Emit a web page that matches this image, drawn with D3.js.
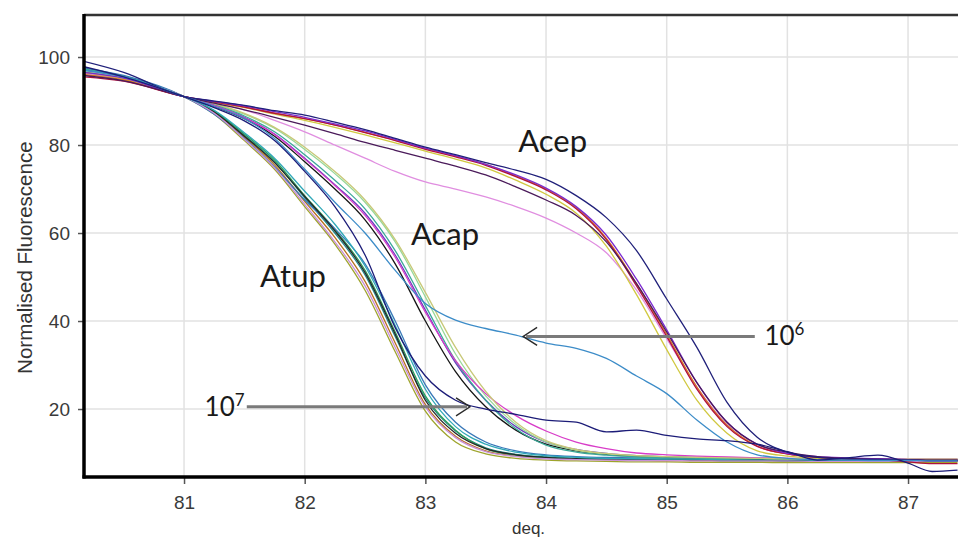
<!DOCTYPE html>
<html>
<head>
<meta charset="utf-8">
<script src="https://cdn.jsdelivr.net/npm/d3@7"></script>
<style>
  body { margin: 0; background: #fff; }
  svg { display: block; font-family: "Liberation Sans", Arial, sans-serif; }
</style>
</head>
<body>
<div class="canvas"></div>
<script>
// temperatures shared by every melt curve
const temps = [80.17, 80.5, 81.0, 81.25, 81.5, 81.75, 82.0, 82.25, 82.5, 82.75, 83.0, 83.25, 83.5, 83.75, 84.0, 84.25, 84.5, 84.75, 85.0, 85.25, 85.5, 85.75, 86.0, 86.25, 86.5, 86.75, 87.0, 87.2, 87.41];

const xTicks = [81, 82, 83, 84, 85, 86, 87];
const yTicks = [20, 40, 60, 80, 100];

// Atup curves
const atup1 = [96.0, 95.0, 91.0, 87.0, 81.0, 74.5, 66.0, 57.5, 47.0, 33.0, 19.5, 12.5, 9.8, 8.8, 8.4, 8.2, 8.1, 8.0, 8.0, 7.9, 7.9, 7.9, 7.8, 7.8, 7.8, 7.8, 7.8, 7.8, 7.8];
const atup2 = [96.8, 95.3, 91.0, 87.4, 81.8, 75.5, 67.2, 59.0, 49.0, 35.0, 21.0, 13.8, 10.5, 9.3, 8.8, 8.6, 8.5, 8.4, 8.3, 8.3, 8.2, 8.2, 8.2, 8.1, 8.1, 8.1, 8.1, 8.1, 8.1];
const atup3 = [97.2, 95.6, 91.0, 87.6, 82.2, 76.2, 68.0, 60.0, 50.5, 36.5, 22.5, 15.0, 11.2, 9.7, 9.1, 8.8, 8.6, 8.5, 8.4, 8.4, 8.3, 8.3, 8.3, 8.2, 8.2, 8.2, 8.2, 8.2, 8.2];
const atup4 = [96.5, 95.2, 91.0, 87.8, 82.5, 76.6, 68.5, 60.8, 51.5, 37.5, 23.0, 15.2, 11.0, 9.5, 8.9, 8.7, 8.6, 8.5, 8.5, 8.4, 8.4, 8.4, 8.3, 8.3, 8.3, 8.3, 8.3, 8.3, 8.3];
const atup5 = [97.5, 95.8, 91.0, 87.0, 81.5, 75.0, 67.5, 61.0, 53.0, 40.0, 25.5, 17.0, 12.5, 10.5, 9.6, 9.2, 9.0, 8.9, 8.8, 8.7, 8.7, 8.6, 8.6, 8.6, 8.5, 8.5, 8.5, 8.5, 8.5];
const atup6 = [96.3, 95.0, 91.0, 87.5, 82.0, 76.0, 68.3, 60.5, 51.0, 37.0, 22.0, 14.5, 11.0, 9.6, 9.0, 8.7, 8.6, 8.5, 8.5, 8.4, 8.4, 8.4, 8.3, 8.3, 8.3, 8.3, 8.3, 8.3, 8.3];
const atup7 = [96.0, 94.8, 91.0, 87.2, 81.3, 74.8, 66.5, 58.0, 48.0, 34.0, 20.5, 13.5, 10.3, 9.2, 8.7, 8.5, 8.4, 8.3, 8.3, 8.2, 8.2, 8.2, 8.2, 8.1, 8.1, 8.1, 8.1, 8.1, 8.1];
const atup8 = [97.0, 95.5, 91.0, 87.9, 82.8, 77.0, 69.5, 62.0, 52.5, 39.0, 24.5, 16.0, 12.0, 10.2, 9.4, 9.0, 8.8, 8.7, 8.6, 8.6, 8.5, 8.5, 8.5, 8.4, 8.4, 8.4, 8.4, 8.4, 8.4];

// Acap curves
const acap1 = [97.0, 95.4, 91.0, 89.0, 86.3, 82.5, 77.0, 71.0, 64.5, 55.0, 42.5, 30.5, 22.0, 16.0, 12.5, 10.8, 9.9, 9.4, 9.2, 9.0, 8.9, 8.8, 8.7, 8.6, 8.6, 8.5, 8.5, 8.5, 8.5];
const acap2 = [96.5, 95.0, 91.0, 88.8, 86.0, 82.0, 76.2, 70.0, 63.0, 53.0, 40.0, 28.5, 20.5, 15.2, 12.0, 10.5, 9.7, 9.3, 9.1, 8.9, 8.8, 8.7, 8.6, 8.6, 8.6, 8.5, 8.5, 8.5, 8.5];
const acap3 = [96.8, 95.3, 91.0, 89.3, 87.0, 83.8, 79.0, 73.5, 67.0, 58.0, 45.5, 32.5, 23.0, 16.5, 12.5, 10.6, 9.8, 9.4, 9.2, 9.0, 8.9, 8.8, 8.7, 8.7, 8.6, 8.6, 8.6, 8.6, 8.6];
const acap4 = [97.3, 95.6, 91.0, 89.1, 86.6, 83.0, 77.8, 72.0, 65.5, 56.0, 43.5, 31.0, 22.0, 15.5, 11.8, 10.2, 9.5, 9.1, 8.9, 8.8, 8.7, 8.7, 8.6, 8.6, 8.6, 8.5, 8.5, 8.5, 8.5];
const acap5 = [96.2, 95.0, 91.0, 89.0, 86.2, 82.4, 76.8, 70.8, 64.0, 54.5, 42.0, 31.0, 23.5, 18.5, 15.0, 12.5, 11.0, 10.0, 9.6, 9.3, 9.1, 8.9, 8.8, 8.7, 8.7, 8.6, 8.6, 8.6, 8.6];
const acap6 = [96.0, 94.8, 91.0, 89.4, 87.2, 84.0, 79.5, 74.0, 67.5, 58.5, 46.5, 34.0, 24.0, 17.0, 12.8, 10.8, 9.9, 9.4, 9.2, 9.0, 8.9, 8.8, 8.7, 8.7, 8.7, 8.6, 8.6, 8.6, 8.6];

// Acep curves
const acep1 = [99.0, 96.5, 91.0, 90.0, 89.0, 87.8, 86.8, 85.2, 83.5, 81.5, 79.5, 77.8, 76.0, 74.3, 72.2, 68.5, 63.5, 56.0, 45.0, 34.0, 21.5, 13.6, 10.2, 9.0, 8.6, 8.5, 8.4, 8.3, 8.3];
const acep2 = [95.5, 94.5, 91.0, 89.8, 88.6, 87.2, 86.0, 84.5, 82.8, 81.0, 79.0, 77.3, 75.4, 72.8, 69.8, 65.5, 58.5, 48.0, 36.5, 24.5, 16.0, 11.5, 9.8, 9.0, 8.7, 8.5, 8.0, 7.6, 7.6];
const acep3 = [96.0, 94.8, 91.0, 89.8, 88.7, 87.3, 86.0, 84.6, 82.9, 81.1, 79.2, 77.5, 75.6, 73.0, 70.0, 65.8, 58.8, 48.5, 37.0, 25.0, 16.3, 11.6, 9.8, 9.0, 8.7, 8.5, 8.4, 8.3, 8.3];
const acep4 = [95.8, 94.6, 91.0, 89.5, 88.0, 86.3, 84.5, 82.6, 80.6, 78.8, 77.0, 75.2, 73.2, 70.5, 67.5, 64.0, 58.0, 48.5, 37.5, 26.0, 17.0, 12.0, 10.2, 9.2, 8.8, 8.6, 8.5, 8.4, 8.4];
const acep5 = [96.5, 95.0, 91.0, 89.7, 88.5, 87.0, 85.6, 84.0, 82.3, 80.5, 78.6, 76.8, 74.8, 72.0, 68.8, 64.5, 57.0, 46.0, 33.5, 22.0, 14.5, 10.5, 9.3, 8.8, 8.6, 8.5, 8.4, 8.4, 8.4];
const acep6 = [96.5, 95.2, 91.0, 89.9, 88.9, 87.6, 86.3, 84.8, 83.2, 81.3, 79.3, 77.6, 75.6, 73.2, 70.2, 66.0, 59.5, 49.5, 38.0, 26.0, 17.0, 12.0, 9.9, 9.2, 8.9, 8.7, 8.5, 8.2, 8.3];
const acep7 = [96.2, 94.9, 91.0, 89.6, 88.0, 85.6, 83.0, 80.0, 77.0, 74.0, 71.6, 70.0, 68.2, 66.0, 63.4, 60.0, 55.5, 47.0, 36.0, 25.0, 16.5, 11.5, 9.8, 9.0, 8.7, 8.5, 8.4, 8.3, 8.3];

// dilution curves pointed at by the arrows
const dil6 = [97.0, 95.5, 91.0, 88.8, 86.0, 81.5, 74.5, 67.0, 60.0, 51.5, 44.0, 40.2, 38.3, 36.8, 35.0, 33.8, 31.5, 27.5, 23.5, 17.5, 12.5, 9.6, 8.8, 8.5, 8.4, 8.3, 8.3, 8.2, 8.2];
const dil7 = [97.8, 95.5, 91.0, 88.5, 85.5, 81.0, 74.0, 66.0, 55.0, 38.5, 27.5, 22.0, 20.0, 18.8, 17.5, 17.0, 14.8, 15.2, 14.0, 13.2, 12.8, 12.0, 10.3, 8.4, 8.9, 9.5, 7.7, 5.8, 6.1];

const series = [
    { values: atup1, color: '#9ea42c' },
    { values: atup2, color: '#b8701e' },
    { values: atup3, color: '#1f8a8a' },
    { values: atup4, color: '#2e9e5a' },
    { values: atup5, color: '#3878b8' },
    { values: atup6, color: '#262626' },
    { values: atup7, color: '#c890d8' },
    { values: atup8, color: '#30a8b8' },
    { values: acap1, color: '#6a3cc0' },
    { values: acap2, color: '#151515' },
    { values: acap3, color: '#98d898' },
    { values: acap4, color: '#3aa898' },
    { values: acap5, color: '#d83cc8' },
    { values: acap6, color: '#c8c878' },
    { values: acep7, color: '#e08ee0' },
    { values: acep5, color: '#d0c840' },
    { values: acep3, color: '#d87820' },
    { values: acep2, color: '#b0103c' },
    { values: acep6, color: '#7a2ad0' },
    { values: acep4, color: '#4a1a5a' },
    { values: acep1, color: '#20207a' },
    { values: dil6, color: '#3c8cc8' },
    { values: dil7, color: '#1c1c78' }
];

const groupLabels = [
    { text: 'Atup', x: 81.63, y: 47.7 },
    { text: 'Acap', x: 82.88, y: 57.3 },
    { text: 'Acep', x: 83.77, y: 78.5 }
];

const width = 958, height = 539;
const margin = { top: 15, right: 0, bottom: 62, left: 84 };

const svg = d3.select('.canvas')
    .append('svg')
    .attr('width', width)
    .attr('height', height);

const x = d3.scaleLinear()
    .domain([80.171, 87.414])
    .range([margin.left, width - margin.right]);

const y = d3.scaleLinear()
    .domain([4.55, 109.55])
    .range([height - margin.bottom, margin.top]);

// grid
svg.append('g')
    .selectAll('line')
    .data(xTicks)
    .join('line')
    .attr('x1', d => x(d)).attr('x2', d => x(d))
    .attr('y1', margin.top).attr('y2', height - margin.bottom)
    .attr('stroke', '#e2e2e2')
    .attr('stroke-width', 1.5);

svg.append('g')
    .selectAll('line')
    .data(yTicks)
    .join('line')
    .attr('x1', margin.left).attr('x2', width)
    .attr('y1', d => y(d)).attr('y2', d => y(d))
    .attr('stroke', '#e2e2e2')
    .attr('stroke-width', 1.5);

svg.append('clipPath')
    .attr('id', 'plot-clip')
    .append('rect')
    .attr('x', margin.left)
    .attr('y', margin.top)
    .attr('width', width - margin.left)
    .attr('height', height - margin.bottom - margin.top);

const line = d3.line()
    .x((d, i) => x(temps[i]))
    .y(d => y(d))
    .curve(d3.curveMonotoneX);

svg.append('g')
    .attr('clip-path', 'url(#plot-clip)')
    .selectAll('path')
    .data(series)
    .join('path')
    .attr('d', d => line(d.values))
    .attr('fill', 'none')
    .attr('stroke', d => d.color)
    .attr('stroke-width', 1.3);

// axes
const xAxis = svg.append('g')
    .attr('transform', `translate(0, ${height - margin.bottom})`)
    .call(d3.axisBottom(x).tickValues(xTicks).tickSize(7).tickPadding(12).tickFormat(d3.format('d')));

const yAxis = svg.append('g')
    .attr('transform', `translate(${margin.left}, 0)`)
    .call(d3.axisLeft(y).tickValues(yTicks).tickSize(6).tickPadding(8).tickFormat(d3.format('d')));

[xAxis, yAxis].forEach(a => {
    a.select('.domain').remove();
    a.selectAll('.tick line').attr('stroke', '#555').attr('stroke-width', 1.5);
    a.selectAll('.tick text')
        .attr('fill', '#3a3a3a')
        .attr('font-size', 19)
        .attr('font-family', '"Liberation Sans", Arial, sans-serif');
});

// frame: thick left and bottom, thinner top
svg.append('line')
    .attr('x1', margin.left).attr('x2', width)
    .attr('y1', margin.top).attr('y2', margin.top)
    .attr('stroke', '#333').attr('stroke-width', 2.5);
svg.append('line')
    .attr('x1', margin.left).attr('x2', margin.left)
    .attr('y1', margin.top - 1).attr('y2', height - margin.bottom + 1.5)
    .attr('stroke', '#000').attr('stroke-width', 3.5);
svg.append('line')
    .attr('x1', margin.left - 1.5).attr('x2', width)
    .attr('y1', height - margin.bottom).attr('y2', height - margin.bottom)
    .attr('stroke', '#000').attr('stroke-width', 3.5);

// axis titles
svg.append('text')
    .attr('transform', `translate(32, ${y(54.4)}) rotate(-90)`)
    .attr('text-anchor', 'middle')
    .attr('font-size', 20.5)
    .attr('fill', '#333')
    .text('Normalised Fluorescence');

svg.append('text')
    .attr('x', 512)
    .attr('y', height - 5)
    .attr('font-size', 17)
    .attr('fill', '#333')
    .text('deq.');

// group labels
svg.append('g')
    .selectAll('text')
    .data(groupLabels)
    .join('text')
    .attr('x', d => x(d.x))
    .attr('y', d => y(d.y))
    .attr('font-family', 'Lato, "Open Sans", sans-serif')
    .attr('font-size', 31)
    .attr('fill', '#1a1a1a')
    .text(d => d.text);

// arrows for the dilutions
const arrow = (x1, x2, yv, dir) => {
    svg.append('line')
        .attr('x1', x(x1)).attr('x2', x(x2) - dir * 3)
        .attr('y1', y(yv)).attr('y2', y(yv))
        .attr('stroke', '#7a7a7a')
        .attr('stroke-width', 3);
    const tx = x(x2), ty = y(yv);
    svg.append('path')
        .attr('d', `M${tx - dir * 14},${ty - 9}L${tx},${ty}L${tx - dir * 14},${ty + 9}`)
        .attr('fill', 'none')
        .attr('stroke', '#2a2a2a')
        .attr('stroke-width', 1.4);
};

arrow(85.73, 83.81, 36.5, -1);
arrow(81.52, 83.37, 20.5, 1);

const dilLabel = (xv, yv, sup) => {
    const t = svg.append('text')
        .attr('x', x(xv))
        .attr('y', y(yv))
        .attr('font-family', 'Lato, "Open Sans", sans-serif')
        .attr('font-size', 26)
        .attr('fill', '#1a1a1a');
    t.append('tspan').text('10');
    t.append('tspan')
        .attr('font-size', 17)
        .attr('dy', -10)
        .text(sup);
};

dilLabel(85.81, 34.5, '6');
dilLabel(81.17, 18.5, '7');
</script>
</body>
</html>
